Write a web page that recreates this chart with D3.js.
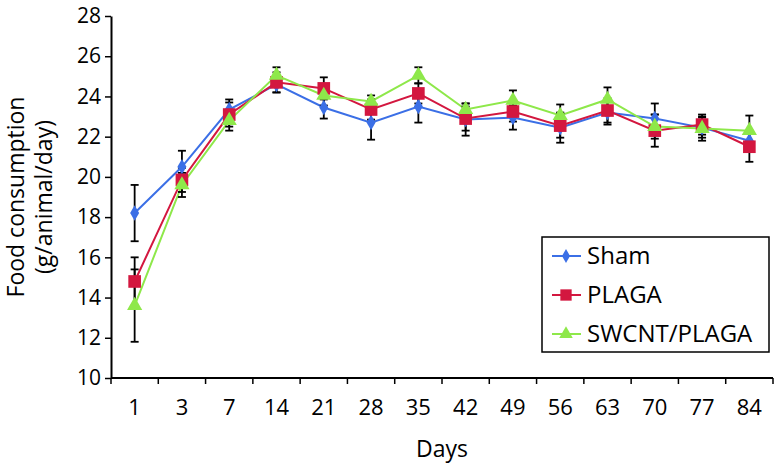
<!DOCTYPE html>
<html>
<head>
<meta charset="utf-8">
<script src="https://cdn.jsdelivr.net/npm/d3@7"></script>
<style>
  body { margin: 0; background: #fff; }
  svg { display: block; font-family: 'Open Sans', sans-serif; }
</style>
</head>
<body>
<script>
const DAYS = ['1', '3', '7', '14', '21', '28', '35', '42', '49', '56', '63', '70', '77', '84'];
const Y_TICKS = [10, 12, 14, 16, 18, 20, 22, 24, 26, 28];

const SHAM = [18.2, 20.5, 23.35, 24.6, 23.45, 22.7, 23.5, 22.85, 22.95, 22.45, 23.2, 22.9, 22.45, 21.8];
const SHAM_ERR = [1.4, 0.8, 0.5, 0.4, 0.55, 0.85, 0.8, 0.8, 0.6, 0.75, 0.6, 0.75, 0.5, 0.5];
const PLAGA = [14.8, 19.85, 23.1, 24.7, 24.4, 23.35, 24.15, 22.9, 23.25, 22.55, 23.3, 22.3, 22.6, 21.5];
const PLAGA_ERR = [1.2, 0.6, 0.6, 0.5, 0.55, 0.5, 0.5, 0.6, 0.5, 0.6, 0.6, 0.8, 0.5, 0.75];
const SWCNT = [13.6, 19.6, 22.8, 25.05, 24.05, 23.75, 25.05, 23.35, 23.8, 23.05, 23.85, 22.5, 22.4, 22.3];
const SWCNT_ERR = [1.8, 0.6, 0.5, 0.4, 0.5, 0.3, 0.4, 0.3, 0.5, 0.55, 0.6, 0.6, 0.6, 0.75];

const SERIES = [
    {name: 'Sham', values: SHAM, err: SHAM_ERR, color: '#3b6fe6', symbol: d3.symbolDiamond, size: 70},
    {name: 'PLAGA', values: PLAGA, err: PLAGA_ERR, color: '#d3173f', symbol: d3.symbolSquare, size: 160},
    {name: 'SWCNT/PLAGA', values: SWCNT, err: SWCNT_ERR, color: '#8ee84a', symbol: d3.symbolTriangle, size: 100}
];

const W = 776, H = 464;
const M = {LEFT: 111, RIGHT: 3, TOP: 16, BOTTOM: 86};

const svg = d3.select('body').append('svg')
    .attr('width', W)
    .attr('height', H);

const x = d3.scaleBand()
    .domain(DAYS)
    .range([M.LEFT, W - M.RIGHT]);

const y = d3.scaleLinear()
    .domain([10, 28])
    .range([H - M.BOTTOM, M.TOP]);

// y axis
const yAxis = svg.append('g')
    .attr('transform', 'translate(' + M.LEFT + ',0)')
    .call(d3.axisLeft(y).tickValues(Y_TICKS).tickSize(6).tickSizeOuter(0).tickPadding(4));

// x axis: ticks on band edges, labels in band centres
const xAxis = svg.append('g')
    .attr('transform', 'translate(0,' + (H - M.BOTTOM) + ')');

xAxis.append('line')
    .attr('x1', M.LEFT).attr('x2', W - M.RIGHT)
    .attr('stroke', '#000').attr('stroke-width', 2);

xAxis.selectAll('.edge')
    .data(DAYS.concat(['end']))
    .enter()
    .append('line')
    .attr('class', 'edge')
    .attr('x1', (d, i) => i < DAYS.length ? x(d) : x(DAYS[DAYS.length - 1]) + x.bandwidth())
    .attr('x2', (d, i) => i < DAYS.length ? x(d) : x(DAYS[DAYS.length - 1]) + x.bandwidth())
    .attr('y1', 0).attr('y2', 6)
    .attr('stroke', '#000').attr('stroke-width', 1.5);

xAxis.selectAll('.lbl')
    .data(DAYS)
    .enter()
    .append('text')
    .attr('class', 'lbl')
    .attr('x', d => x(d) + x.bandwidth() / 2)
    .attr('y', 37)
    .attr('text-anchor', 'middle')
    .attr('font-size', 22)
    .text(d => d);

yAxis.selectAll('.domain').attr('stroke', '#000').attr('stroke-width', 2);
yAxis.selectAll('.tick line').attr('stroke', '#000').attr('stroke-width', 1.5);
yAxis.selectAll('.tick text')
    .attr('font-size', 21)
    .attr('font-family', "'Open Sans', sans-serif")
    .attr('fill', '#000');

// axis titles
svg.append('text')
    .attr('x', (M.LEFT + W - M.RIGHT) / 2)
    .attr('y', 457)
    .attr('text-anchor', 'middle')
    .attr('font-size', 23)
    .text('Days');

const ylab = svg.append('text')
    .attr('transform', 'translate(24,' + ((M.TOP + H - M.BOTTOM) / 2) + ') rotate(-90)')
    .attr('text-anchor', 'middle')
    .attr('font-size', 23);
ylab.append('tspan').attr('x', 0).attr('dy', 0).text('Food consumption');
ylab.append('tspan').attr('x', 0).attr('dy', 28).text('(g/animal/day)');

const cx = d => x(d) + x.bandwidth() / 2;

// lines
const line = d3.line()
    .x((d, i) => cx(DAYS[i]))
    .y(d => y(d));

SERIES.forEach(s => {
    svg.append('path')
        .datum(s.values)
        .attr('d', line)
        .attr('fill', 'none')
        .attr('stroke', s.color)
        .attr('stroke-width', 2);
});

// error bars
SERIES.forEach(s => {
    const g = svg.append('g').attr('stroke', '#000').attr('stroke-width', 1.8);
    s.values.forEach((v, i) => {
        const px = cx(DAYS[i]);
        const lo = y(v - s.err[i]), hi = y(v + s.err[i]);
        g.append('line').attr('x1', px).attr('x2', px).attr('y1', lo).attr('y2', hi);
        g.append('line').attr('x1', px - 4).attr('x2', px + 4).attr('y1', lo).attr('y2', lo);
        g.append('line').attr('x1', px - 4).attr('x2', px + 4).attr('y1', hi).attr('y2', hi);
    });
});

// markers
SERIES.forEach(s => {
    svg.append('g').selectAll('path')
        .data(s.values)
        .enter()
        .append('path')
        .attr('transform', (d, i) => 'translate(' + cx(DAYS[i]) + ',' + y(d) + ')')
        .attr('d', d3.symbol().type(s.symbol).size(s.size))
        .attr('fill', s.color);
});

// legend
const legend = svg.append('g').attr('id', 'legend');
legend.append('rect')
    .attr('x', 542).attr('y', 237)
    .attr('width', 227).attr('height', 115)
    .attr('fill', '#fff')
    .attr('stroke', '#000').attr('stroke-width', 1.5);

SERIES.forEach((s, i) => {
    const ly = 256 + i * 39;
    legend.append('line')
        .attr('x1', 552).attr('x2', 581)
        .attr('y1', ly).attr('y2', ly)
        .attr('stroke', s.color).attr('stroke-width', 2);
    legend.append('path')
        .attr('transform', 'translate(566,' + ly + ')')
        .attr('d', d3.symbol().type(s.symbol).size(s.size * 0.8))
        .attr('fill', s.color);
    legend.append('text')
        .attr('x', 587).attr('y', ly)
        .attr('dy', '0.35em')
        .attr('font-size', 24)
        .text(s.name);
});
</script>
</body>
</html>
